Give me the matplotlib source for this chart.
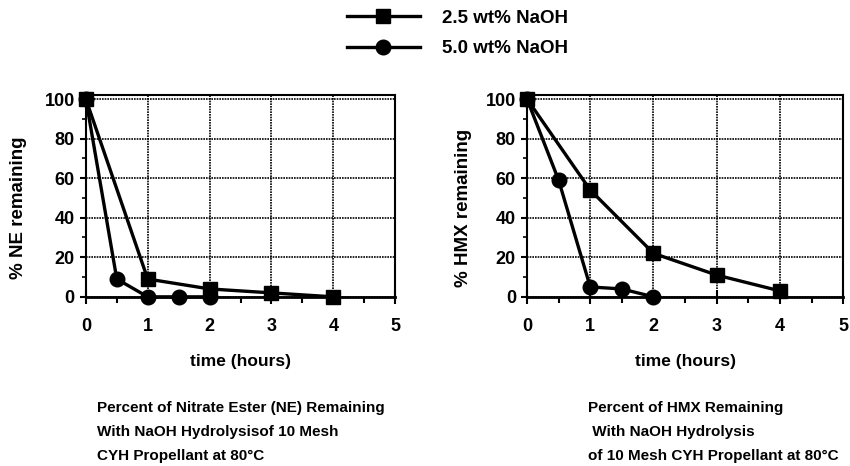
import matplotlib.pyplot as plt
from matplotlib.lines import Line2D
from matplotlib.ticker import MultipleLocator

plt.rcParams["font.family"] = ["Liberation Sans", "DejaVu Sans"]
plt.rcParams["font.weight"] = "bold"

# left panel: nitrate ester (NE)
ne_t_25 = [0, 1, 2, 3, 4]
ne_v_25 = [100, 9, 4, 2, 0]
ne_t_50 = [0, 0.5, 1, 1.5, 2]
ne_v_50 = [100, 9, 0, 0, 0]

# right panel: HMX
hmx_t_25 = [0, 1, 2, 3, 4]
hmx_v_25 = [100, 54, 22, 11, 3]
hmx_t_50 = [0, 0.5, 1, 1.5, 2]
hmx_v_50 = [100, 59, 5, 4, 0]

series_labels = ["2.5 wt% NaOH", "5.0 wt% NaOH"]
x_ticks = [0, 1, 2, 3, 4, 5]
y_ticks = [0, 20, 40, 60, 80, 100]

captions = [
    "Percent of Nitrate Ester (NE) Remaining\nWith NaOH Hydrolysisof 10 Mesh\nCYH Propellant at 80°C",
    "Percent of HMX Remaining\n With NaOH Hydrolysis\nof 10 Mesh CYH Propellant at 80°C",
]

fig = plt.figure(figsize=(8.5, 4.66), dpi=100)
ax1 = fig.add_axes([0.101, 0.363, 0.364, 0.433])
ax2 = fig.add_axes([0.620, 0.363, 0.372, 0.433])


def draw_panel(ax, t25, v25, t50, v50, ylabel):
    ax.plot(t25, v25, color="black", lw=2.4, marker="s", ms=10.5, clip_on=False, zorder=3)
    ax.plot(t50, v50, color="black", lw=2.4, marker="o", ms=10.5, clip_on=False, zorder=3)
    ax.set_xlim(0, 5)
    ax.set_ylim(0, 102)
    ax.set_xticks(x_ticks)
    ax.set_yticks(y_ticks)
    ax.xaxis.set_minor_locator(MultipleLocator(0.5))
    ax.yaxis.set_minor_locator(MultipleLocator(10))
    ax.tick_params(axis="x", which="major", direction="inout", length=10, width=1.5,
                   labelsize=13, pad=10)
    ax.tick_params(axis="x", which="minor", direction="out", length=4, width=1.5)
    ax.tick_params(axis="y", which="major", direction="out", length=4, width=1.5,
                   labelsize=13, pad=4)
    ax.tick_params(axis="y", which="minor", direction="out", length=3, width=1.2)
    ax.grid(True, which="major", color="black", lw=1.2, ls=(0, (1, 0.6)))
    for s in ax.spines.values():
        s.set_linewidth(1.5)
    ax.spines["bottom"].set_linewidth(2)
    ax.set_xlabel("time (hours)", fontsize=12.5, fontweight="bold", labelpad=14)
    ax.set_ylabel(ylabel, fontsize=13.5, fontweight="bold")


draw_panel(ax1, ne_t_25, ne_v_25, ne_t_50, ne_v_50, "% NE remaining")
draw_panel(ax2, hmx_t_25, hmx_v_25, hmx_t_50, hmx_v_50, "% HMX remaining")
ax1.yaxis.set_label_coords(-0.19, 0.44)
ax2.yaxis.set_label_coords(-0.175, 0.44)

handles = [
    Line2D([], [], color="black", lw=2.4, marker="s", ms=10.5),
    Line2D([], [], color="black", lw=2.4, marker="o", ms=10.5),
]
fig.legend(handles, series_labels, loc="upper left", bbox_to_anchor=(0.388, 1.015),
           frameon=False, prop={"size": 13.5, "weight": "bold"}, handlelength=3.9,
           labelspacing=0.7, handletextpad=1.2)

fig.text(0.114, 0.073, captions[0], fontsize=11, fontweight="bold", va="center",
         linespacing=1.87)
fig.text(0.692, 0.073, captions[1], fontsize=11, fontweight="bold", va="center",
         linespacing=1.87)

fig.savefig("out.png", dpi=100)
